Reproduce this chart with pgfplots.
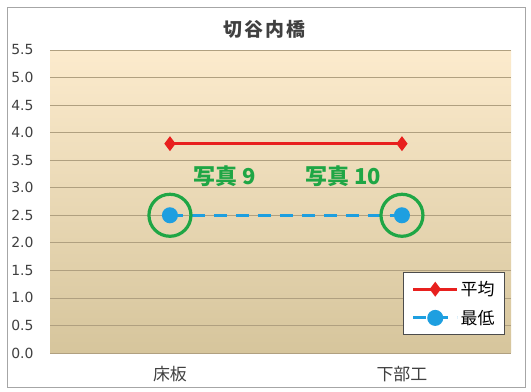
\documentclass[border=0pt]{standalone}
\usepackage{pgfplots}
\pgfplotsset{compat=1.18}
\usepackage{fontspec}
\setmainfont{DejaVu Sans}
\newfontfamily\cjk{Noto Sans CJK JP}
\definecolor{redl}{HTML}{E8201E}
\definecolor{bluel}{HTML}{1E9FE0}
\definecolor{greenc}{HTML}{1FA645}
\definecolor{bgtop}{HTML}{FCEBCD}
\definecolor{bgbot}{HTML}{D6C59C}
\definecolor{gridc}{HTML}{B0A080}
\definecolor{txt}{HTML}{404040}
\begin{document}
\begin{tikzpicture}
\path[use as bounding box] (0bp,0bp) rectangle (531bp,392bp);
\draw[black!35, fill=white, line width=0.8bp] (7.5bp,5bp) rectangle (525bp,385bp);
\begin{axis}[
  at={(50bp,39bp)}, anchor=south west,
  scale only axis, width=461bp, height=303bp,
  xmin=-0.517, xmax=1.47, ymin=0, ymax=5.5,
  xtick={0,1}, xticklabels={床板,下部工},
  ytick={0,0.5,1,1.5,2,2.5,3,3.5,4,4.5,5,5.5},
  yticklabel style={/pgf/number format/fixed, /pgf/number format/fixed zerofill, /pgf/number format/precision=1, font=\fontsize{14}{16}\selectfont, text=txt, xshift=-13bp},
  /pgf/number format/assume math mode=true,
  xticklabel style={font=\cjk\fontsize{17}{19}\selectfont, text=txt, yshift=-10bp},
  ymajorgrids, grid style={color=gridc, line width=0.8bp},
  axis line style={draw=none}, tick style={draw=none},
  axis background/.style={top color=bgtop, bottom color=bgbot},
  title={\cjk\bfseries 切\hspace{2bp}谷\hspace{2bp}内\hspace{2bp}橋}, title style={font=\fontsize{19}{21}\selectfont, text=txt, yshift=2bp, xshift=-16bp},
  legend style={at={(0.987,0.059)}, anchor=south east, fill=white, draw=black!70, line width=0.8bp,
    font=\cjk\fontsize{17}{19}\selectfont, row sep=9bp, inner xsep=8bp, inner ysep=7bp},
  legend cell align=left,
  legend image code/.code={\draw[mark repeat=2,mark phase=2,#1] plot coordinates {(0bp,0bp) (22bp,0bp) (44bp,0bp)};},
]
\addplot[redl, line width=3bp, mark=diamond*, mark size=5bp] coordinates {(0,3.8) (1,3.8)};
\addlegendentry{平均}
\addplot[bluel, line width=3bp, dash pattern=on 13bp off 9bp, mark=*, mark size=6.5bp, mark options={solid}] coordinates {(0,2.5) (1,2.5)};
\addlegendentry{最低}
\addplot[forget plot, only marks, mark=o, mark size=21bp, mark options={draw=greenc, line width=3.2bp}] coordinates {(0,2.5) (1,2.5)};
\node[text=greenc, font=\cjk\bfseries\fontsize{22}{24}\selectfont] at (axis cs:0.237,3.21) {写真 9};
\node[text=greenc, font=\cjk\bfseries\fontsize{22}{24}\selectfont] at (axis cs:0.746,3.21) {写真 10};
\end{axis}
\end{tikzpicture}
\end{document}
